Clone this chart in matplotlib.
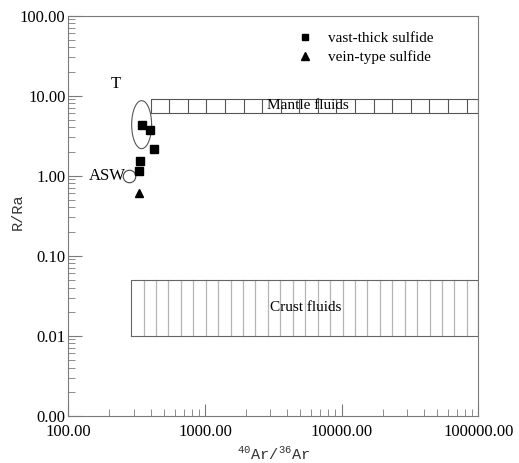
import matplotlib
matplotlib.use("Agg")
import matplotlib.pyplot as plt
import numpy as np
from matplotlib.lines import Line2D

plt.rcParams['font.family'] = ['Liberation Serif', 'DejaVu Serif']
plt.rcParams['mathtext.fontset'] = 'custom'
plt.rcParams['mathtext.rm'] = 'Liberation Mono'

# data
vast_x = [348, 397, 425, 336, 331]
vast_y = [4.25, 3.73, 2.13, 1.53, 1.15]
vein_x = [331]
vein_y = [0.61]

mantle_x = [400, 100000]
mantle_y = [6.1, 9.1]
crust_x = [288, 100000]
crust_y = [0.01, 0.05]

asw_x, asw_y = 280, 1.0
t_center = (344, 4.34)  # ellipse "T" centre

xticks = [100, 1000, 10000, 100000]
yticks = [0.001, 0.01, 0.1, 1, 10, 100]

gray = '#7a7a7a'

fig = plt.figure(figsize=(5.19, 4.63), dpi=100)
ax = fig.add_axes([0.1316, 0.1022, 0.79, 0.864])
ax.set_xscale('log')
ax.set_yscale('log')
ax.set_xlim(100, 100000)
ax.set_ylim(0.001, 100)

# mantle box with vertical dividers
x0, x1 = mantle_x
y0, y1 = mantle_y
ax.plot([x0, x1, x1, x0, x0], [y0, y0, y1, y1, y0], color='#555555', lw=0.8)
for lx in np.arange(np.log10(x0) + 0.136, np.log10(x1), 0.136):
    ax.plot([10**lx, 10**lx], [y0, y1], color='#555555', lw=0.8)
ax.text(5690, 7.5, 'Mantle fluids', ha='center', va='center', fontsize=11)

# crust box
x0, x1 = crust_x
y0, y1 = crust_y
for lx in np.arange(np.log10(x0) + 0.091, np.log10(x1), 0.091):
    ax.plot([10**lx, 10**lx], [y0, y1], color='#b5b5b5', lw=0.9)
ax.plot([x0, x1, x1, x0, x0], [y0, y0, y1, y1, y0], color='#666666', lw=0.8)
ax.text(5430, 0.0223, 'Crust fluids', ha='center', va='center', fontsize=11)

# ellipse T
t = np.linspace(0, 2 * np.pi, 200)
ex = 10 ** (np.log10(t_center[0]) + 0.073 * np.cos(t))
ey = 10 ** (np.log10(t_center[1]) + 0.30 * np.sin(t))
ax.plot(ex, ey, color='#555555', lw=0.8)
ax.text(10**2.344, 10**1.145, 'T', ha='center', va='center', fontsize=12)

# ASW circle
ax.plot([asw_x], [asw_y], 'o', mfc='white', mec='#444444', ms=9, mew=0.8)
ax.text(10**2.42, 1.0, 'ASW', ha='right', va='center', fontsize=12)

ax.plot(vast_x, vast_y, 's', color='black', ms=5.5, ls='none')
ax.plot(vein_x, vein_y, '^', color='black', ms=5.5, ls='none')

handles = [Line2D([], [], marker='s', color='black', ls='none', ms=5),
           Line2D([], [], marker='^', color='black', ls='none', ms=5.5)]
ax.legend(handles, ['vast-thick sulfide', 'vein-type sulfide'], loc='upper left',
          bbox_to_anchor=(0.515, 0.995), frameon=False, fontsize=11,
          handletextpad=0.8, labelspacing=0.35, handlelength=1.5)

ax.set_xticks(xticks)
ax.set_xticklabels(['%.2f' % v for v in xticks])
ax.set_yticks(yticks)
ax.set_yticklabels(['%.2f' % v for v in yticks])
ax.tick_params(axis='both', which='both', direction='in', colors=gray,
               labelcolor='black', labelsize=12)
ax.tick_params(axis='x', which='major', length=8.5, pad=6)
ax.tick_params(axis='y', which='major', length=10, pad=2)
ax.tick_params(axis='both', which='minor', length=4.7)
ax.xaxis.set_minor_formatter(plt.NullFormatter())
ax.yaxis.set_minor_formatter(plt.NullFormatter())
for s in ax.spines.values():
    s.set_color(gray)

ax.set_xlabel(r'$^{40}$Ar/$^{36}$Ar', family='Liberation Mono', fontsize=11, color='#333333')
ax.set_ylabel('R/Ra', family='Liberation Mono', fontsize=11, color='#333333')
ax.yaxis.set_label_coords(-0.105, 0.51)
ax.xaxis.set_label_coords(0.5, -0.074)

fig.savefig('out.png', dpi=100)
